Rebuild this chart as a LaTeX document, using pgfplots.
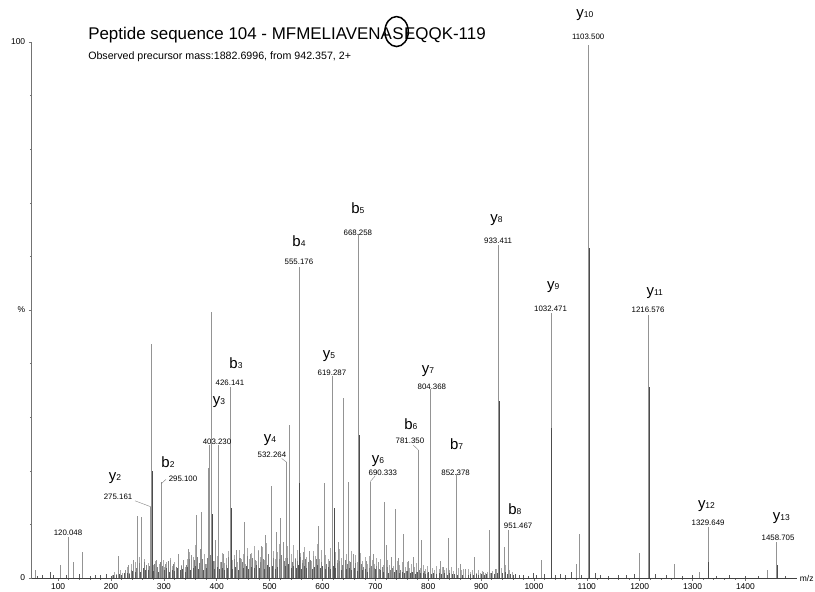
\documentclass[border=0pt]{standalone}
\usepackage{fontspec}
\setmainfont{Liberation Sans}
\usepackage{pgfplots}
\pgfplotsset{compat=1.18}
\newcommand{\ion}[2]{{\fontsize{15}{15}\selectfont #1\fontsize{8.5}{9}\selectfont #2}}
\newcommand{\val}{\fontsize{7.9}{8}\selectfont}
\begin{document}
\begin{tikzpicture}
\begin{axis}[
  scale only axis, width=765bp, height=536bp,
  xmin=50, xmax=1497, ymin=0, ymax=100,
  axis x line*=bottom, axis y line*=left,
  axis line style={black!55, line width=0.6bp},
  x axis line style={black!75},
  xtick={100,200,...,1400}, minor x tick num=4,
  ytick={0,50,100}, yticklabels={0,\%,100},
  minor ytick={10,20,30,40,60,70,80,90},
  tick align=outside, major tick length=3bp, minor tick length=1.8bp,
  tick style={black!55, line width=0.5bp},
  /pgf/number format/assume math mode=true,
  /pgf/number format/1000 sep={},
  ticklabel style={font=\fontsize{8.5}{9}\selectfont},
  xticklabel style={yshift=1bp},
  clip=false,
]
\coordinate (O) at (rel axis cs:0,0);
% light noise
\addplot[ycomb, mark=none, black!33, line width=0.45bp] coordinates {
(202,0.6)(206,1.1)(210,0.8)(218,1.4)(222,0.9)(226,1.2)(230,2.1)(234,1.0)(238,2.6)(242,1.8)(246,3.0)(250,2.2)(254,4.0)(258,2.5)(262,3.6)(266,1.9)(270,2.8)(274,3.3)(280,2.4)(284,3.1)(288,1.7)(292,2.6)(298,3.4)(300,2.0)(304,2.9)(308,1.6)(312,3.8)(316,2.3)(320,3.0)(324,1.8)(328,4.3)(332,2.5)(336,3.1)(340,2.0)(344,3.6)(348,4.8)(352,2.7)(356,3.9)(360,6.2)(364,3.3)(368,5.0)(372,3.0)(376,4.4)(380,2.6)(388,3.8)(392,5.4)(396,3.2)(400,4.1)(406,3.0)(410,4.6)(414,2.8)(418,3.7)(422,5.1)(430,3.4)(434,4.2)(438,2.9)(442,5.3)(446,3.6)(450,4.4)(454,2.7)(458,5.6)(462,3.5)(466,4.7)(470,6.0)(474,3.1)(478,5.2)(482,4.0)(486,5.8)(490,3.3)(494,6.5)(498,4.2)(506,5.0)(510,3.6)(514,4.8)(518,6.3)(522,4.1)(526,5.5)(530,3.8)(534,5.9)(540,4.4)(544,6.1)(548,3.7)(552,5.3)(558,4.6)(562,3.4)(566,5.7)(570,3.9)(574,4.8)(578,3.2)(582,5.0)(586,4.1)(590,6.4)(594,3.6)(598,5.2)(606,4.3)(610,3.5)(614,5.6)(618,4.0)(624,4.9)(628,3.3)(632,5.4)(636,3.8)(644,4.5)(650,3.1)(654,5.0)(658,3.6)(662,4.2)(666,2.9)(672,4.6)(676,3.2)(680,3.9)(684,2.7)(688,4.1)(694,3.4)(698,2.6)(702,3.8)(706,2.9)(710,3.5)(714,2.4)(722,3.3)(726,2.5)(730,3.7)(734,2.2)(742,3.1)(746,2.4)(750,2.9)(756,2.1)(760,3.0)(764,1.9)(768,2.6)(774,2.0)(778,2.8)(784,1.8)(790,2.5)(794,1.7)(798,2.3)(808,1.9)(812,1.5)(816,2.2)(820,1.6)(826,2.0)(830,1.4)(834,1.9)(840,1.5)(844,2.1)(848,1.3)(856,1.8)(862,1.4)(866,1.7)(870,1.2)(876,1.6)(880,1.1)(884,1.5)(890,1.0)(894,1.4)(898,0.9)(902,1.3)(908,1.0)(912,1.2)(918,0.9)(922,1.3)(928,1.6)(938,1.9)(946,2.4)(954,1.5)(958,1.1)
};
% medium noise
\addplot[ycomb, mark=none, black!50, line width=0.4bp] coordinates {
(227.5,1.2)(232.5,1.8)(237.5,1.4)(242.5,2.3)(247.5,1.9)(252.5,2.8)(257.5,2.1)(262.5,3.0)(267.5,2.4)(272.5,2.2)(277.5,3.1)(282.5,2.6)(287.5,2.0)(292.5,2.9)(297.5,2.3)(302.5,1.9)(307.5,3.2)(312.5,2.1)(317.5,2.7)(322.5,2.0)(327.5,3.4)(332.5,2.2)(337.5,2.9)(342.5,2.4)(347.5,3.6)(352.5,2.6)(357.5,3.3)(362.5,4.0)(367.5,2.8)(372.5,3.5)(377.5,2.5)(382.5,3.8)(387.5,4.2)(392.5,3.1)(397.5,2.7)(402.5,3.6)(407.5,2.9)(412.5,3.3)(417.5,2.4)(422.5,3.9)(427.5,3.0)(432.5,3.5)(437.5,2.6)(442.5,3.8)(447.5,2.9)(452.5,3.4)(457.5,4.1)(462.5,2.8)(467.5,3.7)(472.5,3.2)(477.5,4.3)(482.5,2.9)(487.5,3.6)(492.5,3.0)(497.5,4.4)(502.5,3.3)(507.5,3.8)(512.5,2.9)(517.5,3.5)(522.5,4.2)(527.5,3.1)(532.5,3.7)(537.5,4.5)(542.5,3.0)(547.5,3.6)(552.5,3.2)(557.5,4.0)(562.5,2.8)(567.5,3.5)(572.5,3.0)(577.5,3.3)(582.5,2.7)(587.5,3.6)(592.5,3.9)(597.5,2.9)(602.5,3.4)(607.5,2.6)(612.5,3.2)(617.5,2.5)(622.5,3.5)(627.5,2.8)(632.5,3.1)(637.5,2.4)(642.5,3.3)(647.5,2.6)(652.5,2.9)(657.5,2.2)(662.5,2.8)(667.5,2.0)(672.5,2.6)(677.5,2.1)(682.5,2.4)(687.5,1.8)(692.5,2.3)(697.5,1.9)(702.5,2.2)(707.5,1.6)(712.5,2.0)(717.5,1.7)(722.5,2.1)(727.5,1.5)(732.5,1.9)(737.5,1.6)(742.5,1.8)(747.5,1.4)(752.5,1.7)(757.5,1.3)(762.5,1.6)(767.5,1.2)(772.5,1.5)(777.5,1.1)(782.5,1.4)(787.5,1.0)(792.5,1.3)(797.5,1.0)
};
% dark low noise
\addplot[ycomb, mark=none, black!65, line width=0.4bp] coordinates {
(60,0.4)(70,0.5)(85,1.2)(90,0.5)(115,0.6)(140,0.7)(160,0.4)(170,0.5)(180,0.6)(190,0.8)
(200,0.4)(205,0.6)(210,0.5)(215,0.8)(220,0.6)(225,0.9)(230,1.0)(235,0.8)(240,1.3)(245,1.1)(250,1.6)(255,1.2)(260,1.8)(265,1.4)(270,1.5)(275,1.9)(280,1.3)(285,1.7)(290,1.2)(295,1.6)(300,1.4)(305,1.8)(310,1.1)(315,1.5)(320,1.3)(325,1.9)(330,1.4)(335,1.7)(340,1.2)(345,2.0)(350,1.5)(355,1.8)(360,2.2)(365,1.6)(370,2.0)(375,1.5)(380,1.9)(385,2.3)(390,2.1)(395,1.7)(400,2.0)(405,1.6)(410,1.9)(415,1.4)(420,1.8)(425,2.1)(430,1.6)(435,2.0)(440,1.5)(445,2.2)(450,1.8)(455,2.3)(460,1.7)(465,2.1)(470,1.9)(475,2.4)(480,1.8)(485,2.2)(490,1.6)(495,2.5)(500,2.0)(505,2.3)(510,1.7)(515,2.1)(520,2.4)(525,1.9)(530,2.2)(535,2.6)(540,1.8)(545,2.3)(550,1.9)(555,2.5)(560,1.7)(565,2.2)(570,1.8)(575,2.0)(580,1.6)(585,2.1)(590,2.4)(595,1.8)(600,2.2)(605,1.7)(610,2.0)(615,1.6)(620,2.3)(625,1.8)(630,2.0)(635,1.5)(640,2.1)(645,1.7)(650,1.9)(655,1.4)(660,1.8)(665,1.3)(670,1.7)(675,1.4)(680,1.6)(685,1.2)(690,1.5)(695,1.3)(700,1.6)(705,1.1)(710,1.4)(715,1.2)(720,1.5)(725,1.0)(730,1.3)(735,1.1)(740,1.4)(745,0.9)(750,1.2)(755,1.0)(760,1.3)(765,0.9)(770,1.1)(775,0.8)(780,1.2)(785,0.9)(790,1.0)(795,0.8)(800,1.1)(805,0.7)(810,1.0)(815,0.8)(820,0.9)(825,0.7)(830,1.0)(835,0.6)(840,0.9)(845,0.7)(850,0.8)(855,0.6)(860,0.8)(865,0.5)(870,0.7)(875,0.6)(880,0.8)(885,0.5)(890,0.7)(895,0.6)(900,0.8)(905,0.5)(910,0.7)(915,0.6)(920,0.9)(925,0.7)(930,1.0)(935,1.2)(940,0.9)(945,1.1)(950,0.8)(955,0.7)(960,0.5)
(965,0.8)(972,0.5)(980,0.6)(990,0.4)(998,0.9)(1005,0.5)(1020,0.7)(1040,0.6)(1050,0.8)(1060,0.5)(1070,1.2)(1090,0.6)(1115,0.9)(1125,0.5)(1140,0.4)(1160,0.5)(1175,0.6)(1190,0.8)(1230,0.7)(1250,0.5)(1280,0.4)(1300,0.5)(1345,0.4)(1370,0.6)(1400,0.3)(1425,0.4)(1475,0.3)
};
% main peaks
\addplot[ycomb, mark=none, black!42, line width=0.55bp] coordinates {
(56,1.5)(103.6,2.5)(120.048,7.7)(128.8,3.0)(145.8,4.9)(213.8,4.1)(226.5,1.5)(232.8,2.4)(242.2,3.4)
(249.8,11.6)(257.3,11.4)(275.161,13.3)(277.1,43.7)(286.4,3.4)(295.100,18.0)(302.1,2.7)(311.6,3.4)(327.3,4.5)(336.7,3.4)(346.2,5.5)(352.6,4.2)
(362.1,11.8)(368.3,5.5)(371.5,12.4)(377.8,2.7)(384.2,20.5)(386.0,24.8)(390.4,49.7)(396.7,7.0)(403.230,24.9)(412.4,4.4)(426.141,35.7)(437.7,5.2)(444,3.7)(452.1,10.5)(462.9,4.4)(472.3,3.3)(478.6,5.0)(485,6.0)(491,8.0)
(502.6,17.2)(513.3,8.6)(519.6,11.2)(525.8,6.7)(532.264,21.6)(537.2,28.5)(555.176,58.1)(563.6,4.8)(575,5.1)(582.5,4.1)(592,9.7)(603.3,17.7)(619.287,37.6)(629.8,6.7)(640,33.5)(648.7,18.0)(658.2,4.4)(668.258,64.2)(683.5,3.2)(690.333,18.0)(696,4.4)(705.5,3.0)
(716.8,14.2)(720,6.1)(730.8,4.0)(738.3,12.8)(743.2,3.7)(752.7,8.2)(762,3.2)(771.6,4.0)(781.350,23.9)(787.5,7.0)(804.368,35.2)(822,3.2)(828.4,2.0)(837.8,7.5)(852.378,19.4)(859.9,2.6)(871,1.6)(887,4.0)(904,1.2)(915.3,9.0)(926,1.6)(933.411,62.1)(943.6,5.8)(951.467,9.0)
(1014.4,3.4)(1032.471,49.4)(1080.5,2.6)(1085.5,8.3)(1103.500,99.5)(1199,4.6)(1216.576,49.0)(1265.1,2.7)(1311.8,1.2)(1329.649,9.6)(1441,1.5)(1458.705,6.8)
};
% darker isotope / overlap segments
\addplot[ycomb, mark=none, black!70, line width=0.6bp] coordinates {
(277.6,20)(391,12)(427.1,13)(556.2,17.7)(622.2,13)(669.3,26.7)(934.4,33)(1033.5,28)(1104.5,61.6)(1217.6,35.7)(1330.6,3)(1459.7,2.5)
};
% labels
\node[font=\val] at (axis cs:118.7,8.4) {120.048};
\node at (axis cs:207.6,18.7) {\ion{y}{2}};
\node[font=\val] at (axis cs:213.3,15.1) {275.161};
\draw[black!50, line width=0.4bp] (axis cs:245.4,14.4) -- (axis cs:275.1,13.3);
\node at (axis cs:307.8,21.6) {\ion{b}{2}};
\node[font=\val] at (axis cs:336.2,18.5) {295.100};
\draw[black!50, line width=0.4bp] (axis cs:295.1,17.6) -- (axis cs:304,18.4);
\node at (axis cs:404.2,32.8) {\ion{y}{3}};
\node[font=\val] at (axis cs:400.5,25.4) {403.230};
\node at (axis cs:436.4,40.1) {\ion{b}{3}};
\node[font=\val] at (axis cs:425,36.4) {426.141};
\node at (axis cs:500.7,25.7) {\ion{y}{4}};
\node[font=\val] at (axis cs:504.4,22.9) {532.264};
\draw[black!50, line width=0.4bp] (axis cs:522.8,22.3) -- (axis cs:532.2,21.6);
\node at (axis cs:555.5,62.9) {\ion{b}{4}};
\node[font=\val] at (axis cs:555.5,59.0) {555.176};
\node at (axis cs:612.2,41.4) {\ion{y}{5}};
\node[font=\val] at (axis cs:617.9,38.2) {619.287};
\node at (axis cs:667,69.0) {\ion{b}{5}};
\node[font=\val] at (axis cs:667,64.4) {668.258};
\node at (axis cs:704.9,21.8) {\ion{y}{6}};
\node[font=\val] at (axis cs:714.3,19.6) {690.333};
\draw[black!50, line width=0.4bp] (axis cs:699.2,18.97) -- (axis cs:690.3,18.0);
\node at (axis cs:767.3,28.7) {\ion{b}{6}};
\node[font=\val] at (axis cs:765.4,25.6) {781.350};
\draw[black!50, line width=0.4bp] (axis cs:771.6,24.8) -- (axis cs:781.3,23.9);
\node at (axis cs:799.4,38.6) {\ion{y}{7}};
\node[font=\val] at (axis cs:806.9,35.6) {804.368};
\node at (axis cs:853.7,24.9) {\ion{b}{7}};
\node[font=\val] at (axis cs:851.8,19.7) {852.378};
\node at (axis cs:929.3,66.8) {\ion{y}{8}};
\node[font=\val] at (axis cs:932.3,62.9) {933.411};
\node at (axis cs:963.9,12.8) {\ion{b}{8}};
\node[font=\val] at (axis cs:970.1,9.8) {951.467};
\node at (axis cs:1036.3,54.3) {\ion{y}{9}};
\node[font=\val] at (axis cs:1031.4,50.3) {1032.471};
\node at (axis cs:1096.2,105) {\ion{y}{10}};
\node[font=\val] at (axis cs:1102.5,100.9) {1103.500};
\node at (axis cs:1228.6,53.2) {\ion{y}{11}};
\node[font=\val] at (axis cs:1215.9,50) {1216.576};
\node at (axis cs:1326.3,13.4) {\ion{y}{12}};
\node[font=\val] at (axis cs:1329.4,10.3) {1329.649};
\node at (axis cs:1468,11.1) {\ion{y}{13}};
\node[font=\val] at (axis cs:1461.7,7.5) {1458.705};
% x label
\node[anchor=west, font=\fontsize{8.5}{9}\selectfont, inner sep=0] at ([xshift=3bp]rel axis cs:1,0) {m/z};
% titles
\node[anchor=base west, inner sep=0, font=\fontsize{17}{17}\selectfont] (t1) at (axis cs:156.6,100.4) {Peptide sequence 104 - MFMELIAVENA};
\node[anchor=base west, inner sep=0, font=\fontsize{17}{17}\selectfont] (t2) at (t1.base east) {S};
\node[anchor=base west, inner sep=0, font=\fontsize{17}{17}\selectfont] at (t2.base east) {EQQK-119};
\draw[line width=1.5bp] ([xshift=-1.5bp,yshift=8.3bp]t2.base) ellipse (11.7bp and 15bp);
\node[anchor=base west, inner sep=0, font=\fontsize{10.7}{11}\selectfont] at (axis cs:156.6,96.8) {Observed precursor mass:1882.6996, from 942.357, 2+};
\end{axis}
\pgfresetboundingbox
\path ([shift={(-31.7bp,-14bp)}]O) rectangle ([shift={(783.3bp,578bp)}]O);
\end{tikzpicture}
\end{document}
